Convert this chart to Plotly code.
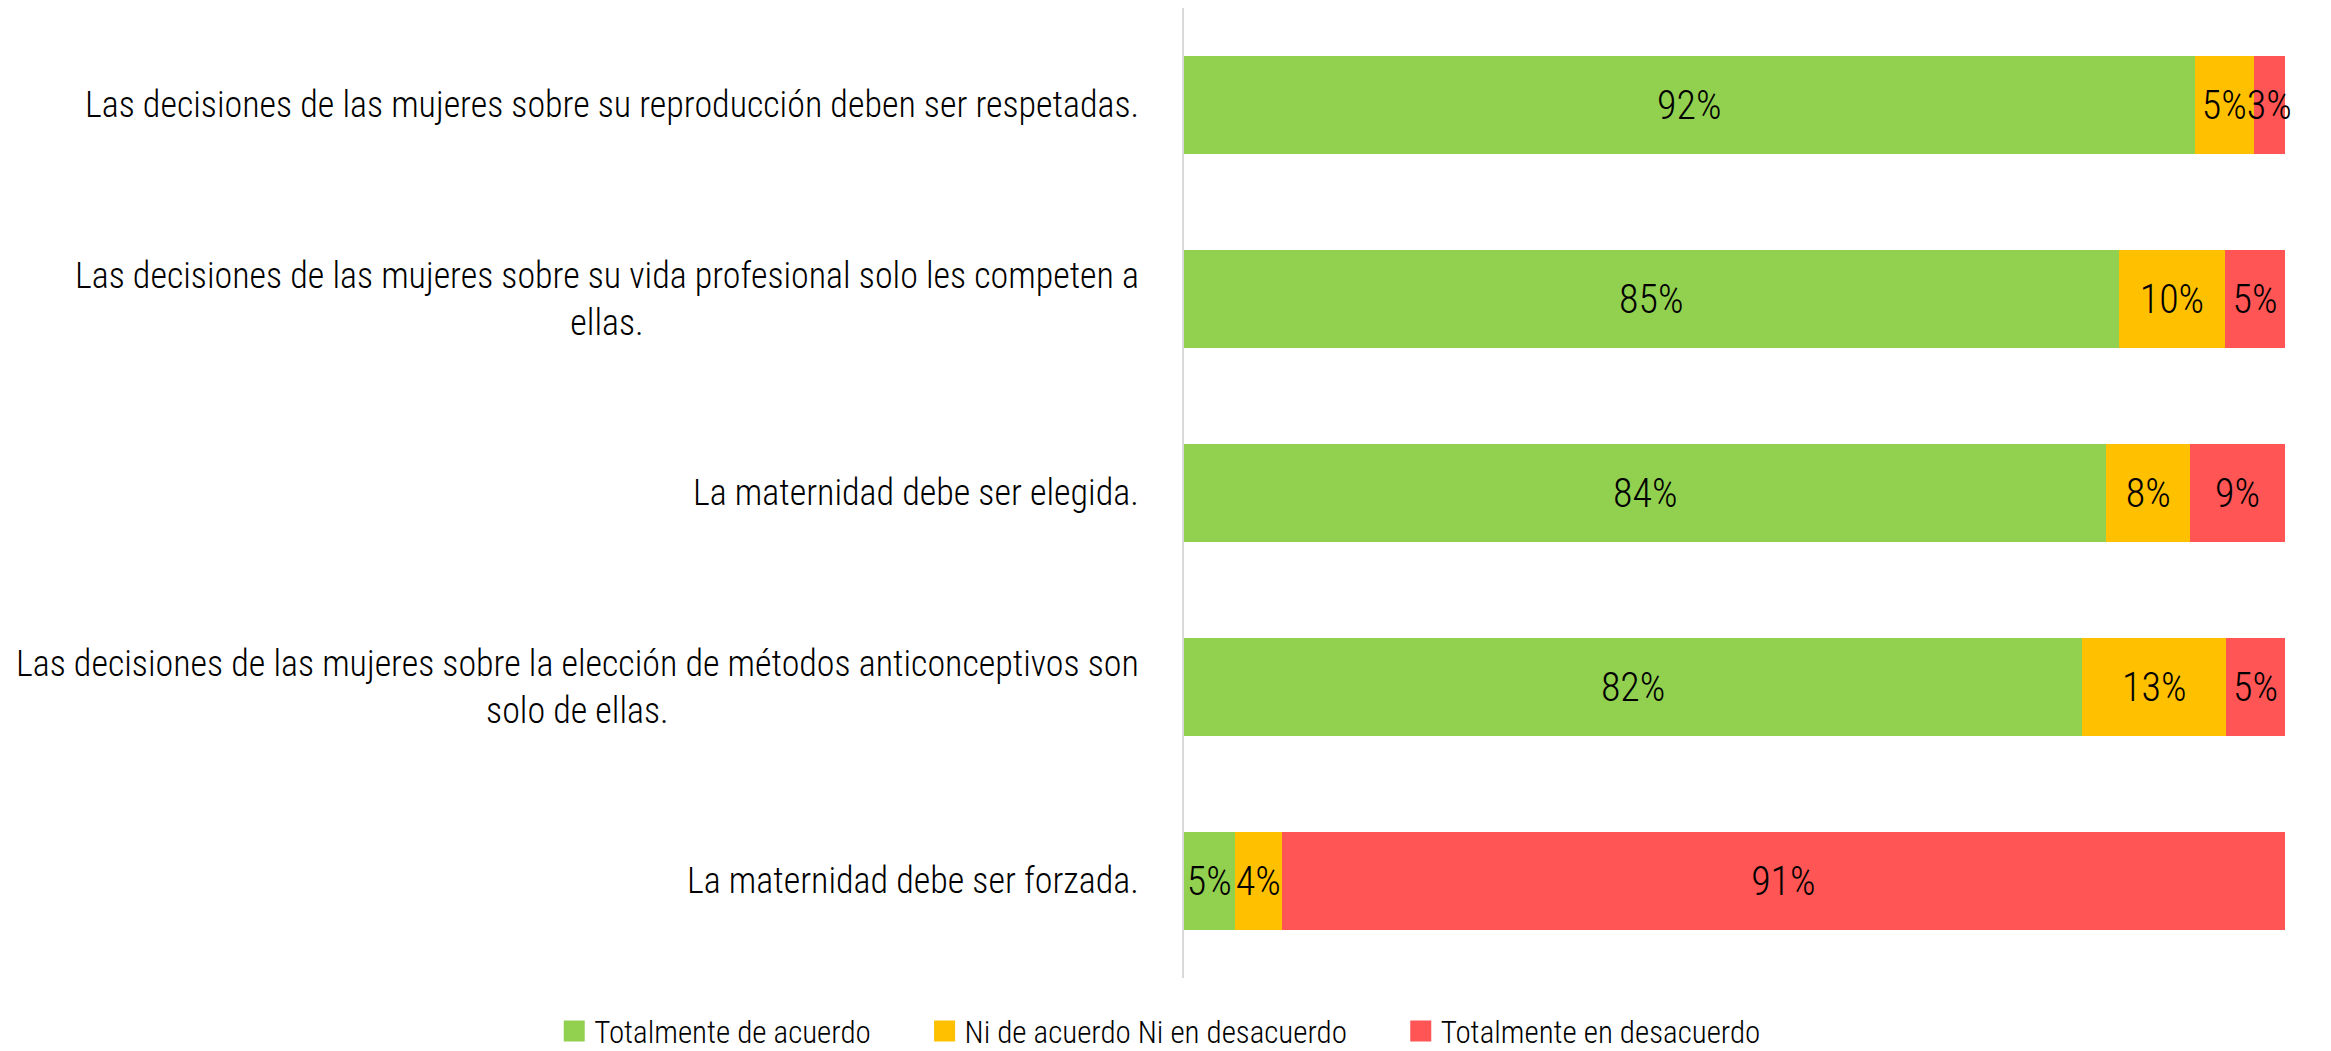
import plotly.graph_objects as go

statements = [
    "Las decisiones de las mujeres sobre su reproducción deben ser respetadas.",
    "Las decisiones de las mujeres sobre su vida profesional solo les competen a<br>ellas.",
    "La maternidad debe ser elegida.",
    "Las decisiones de las mujeres sobre la elección de métodos anticonceptivos son<br>solo de ellas.",
    "La maternidad debe ser forzada.",
]
de_acuerdo = [91.8, 84.9, 83.8, 81.6, 4.6]
neutral = [5.4, 9.7, 7.6, 13.1, 4.3]
desacuerdo = [2.8, 5.4, 8.6, 5.3, 91.1]

series = [
    ("Totalmente de acuerdo", de_acuerdo, "#92D050"),
    ("Ni de acuerdo Ni en desacuerdo", neutral, "#FFC000"),
    ("Totalmente en desacuerdo", desacuerdo, "#FF5555"),
]

FONT = "Roboto Condensed, Liberation Sans Narrow, Arial Narrow, DejaVu Sans Condensed, sans-serif"
PAD = "\u00a0" * 7  # extra room between legend entries

fig = go.Figure()
for name, vals, color in series:
    fig.add_trace(go.Bar(
        x=vals,
        y=list(range(len(statements))),
        orientation="h",
        name=name,
        showlegend=False,
        marker=dict(color=color, line=dict(width=0)),
        texttemplate="%{x:.0f}%",
        textposition="inside",
        textangle=0,
        insidetextanchor="middle",
        textfont=dict(family=FONT, size=40, color="black", weight=300),
        constraintext="none",
        cliponaxis=False,
    ))
    # legend entry with a bigger square swatch
    fig.add_trace(go.Scatter(
        x=[None], y=[None], mode="markers", name=name + PAD,
        marker=dict(symbol="square", size=16, color=color,
                    line=dict(width=5, color=color)),
    ))

# category labels as annotations so wrapped lines are centered
for i, s in enumerate(statements):
    fig.add_annotation(
        x=0, xref="paper", y=i, yref="y",
        text=s, showarrow=False,
        xanchor="right", xshift=-43, align="center",
        font=dict(family=FONT, size=36, color="black", weight=300),
    )

fig.update_layout(
    barmode="stack",
    bargap=0.495,
    width=2331,
    height=1051,
    plot_bgcolor="white",
    paper_bgcolor="white",
    margin=dict(l=1176, r=54, t=0, b=81),
    uniformtext=dict(minsize=40, mode="show"),
    legend=dict(
        orientation="h",
        x=-0.572, xanchor="left",
        y=-0.055, yanchor="middle",
        font=dict(family=FONT, size=31, color="black", weight=300),
        traceorder="normal",
    ),
    font=dict(family=FONT),
)
fig.update_xaxes(range=[0, 100.02], showgrid=False, showticklabels=False, zeroline=False)
fig.update_yaxes(autorange="reversed", showgrid=False, showticklabels=False,
                 zeroline=False, showline=True, linecolor="#D9D9D9", linewidth=2)

fig.write_html("out.html")
